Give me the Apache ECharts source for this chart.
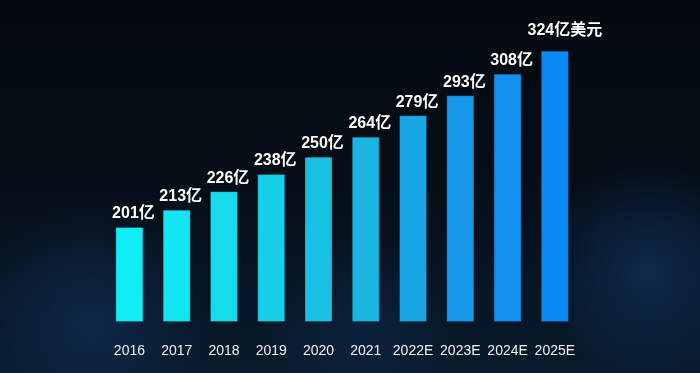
<!DOCTYPE html>
<html>
<head>
<meta charset="utf-8">
<script src="https://cdn.jsdelivr.net/npm/echarts@6/dist/echarts.min.js"></script>
<style>
html,body{margin:0;padding:0;background:#050b12;}
#chart{width:700px;height:373px;}
</style>
</head>
<body>
<div id="chart"></div>
<script>
// ---- data ----
var categories = ['2016','2017','2018','2019','2020','2021','2022E','2023E','2024E','2025E'];
var values = [201, 213, 226, 238, 250, 264, 279, 293, 308, 324];
var units = ['亿','亿','亿','亿','亿','亿','亿','亿','亿','亿美元'];

// ---- styles ----
var barColors = ['#10eef5','#12e6f2','#15dbed','#17cfe8','#18c1e4','#19b4e2','#19a6e4','#1799e8','#1290ed','#0c8af3'];

var chart = echarts.init(document.getElementById('chart'), null, {renderer:'canvas'});

var seriesData = values.map(function (v, i) {
  var last = i === values.length - 1;
  return {
    value: v,
    itemStyle: { color: barColors[i] },
    label: {
      offset: last ? [10, 0] : [4, 0],
      distance: last ? 12 : 5
    }
  };
});

var option = {
  backgroundColor: {
    type: 'linear', x: 0, y: 0, x2: 0, y2: 1,
    colorStops: [
      {offset: 0, color: '#04090f'},
      {offset: 0.45, color: '#050d16'},
      {offset: 0.75, color: '#071523'},
      {offset: 1, color: '#081a2b'}
    ]
  },
  graphic: [
    {
      type: 'rect', z: 0, silent: true,
      shape: {x: -120, y: 200, width: 420, height: 240},
      style: {fill: {type: 'radial', x: 0.5, y: 0.5, r: 0.5,
        colorStops: [{offset: 0, color: 'rgba(30,80,150,0.30)'}, {offset: 1, color: 'rgba(30,80,150,0)'}]}}
    },
    {
      type: 'rect', z: 0, silent: true,
      shape: {x: 480, y: 160, width: 340, height: 220},
      style: {fill: {type: 'radial', x: 0.5, y: 0.5, r: 0.5,
        colorStops: [{offset: 0, color: 'rgba(30,90,170,0.30)'}, {offset: 1, color: 'rgba(30,90,170,0)'}]}}
    },
    {
      type: 'rect', z: 0, silent: true,
      shape: {x: 150, y: 230, width: 420, height: 200},
      style: {fill: {type: 'radial', x: 0.5, y: 0.5, r: 0.5,
        colorStops: [{offset: 0, color: 'rgba(25,70,130,0.22)'}, {offset: 1, color: 'rgba(25,70,130,0)'}]}}
    }
  ],
  grid: { left: 105.8, right: 121.5, top: 40, bottom: 51.5, containLabel: false },
  xAxis: {
    type: 'category',
    data: categories,
    axisLine: {show: false},
    axisTick: {show: false},
    axisLabel: {
      interval: 0,
      color: '#eef3f8',
      fontSize: 14,
      fontFamily: 'Liberation Sans, Arial, sans-serif',
      margin: 23
    }
  },
  yAxis: {
    type: 'value',
    min: 135,
    max: 331.5,
    show: false,
    splitLine: {show: false}
  },
  series: [{
    type: 'bar',
    data: seriesData,
    barWidth: 28,
    z: 3,
    itemStyle: { borderColor: 'rgba(0,20,40,0.25)', borderWidth: 1 },
    label: {
      show: true,
      position: 'top',
      color: '#ffffff',
      fontSize: 16,
      fontWeight: 'bold',
      fontFamily: 'Liberation Sans, Arial, "Noto Sans CJK SC", sans-serif',
      textShadowColor: 'rgba(0,0,0,0.5)',
      textShadowBlur: 2,
      formatter: function (p) { return p.value + units[p.dataIndex]; }
    }
  }]
};
chart.setOption(option);
</script>
</body>
</html>
